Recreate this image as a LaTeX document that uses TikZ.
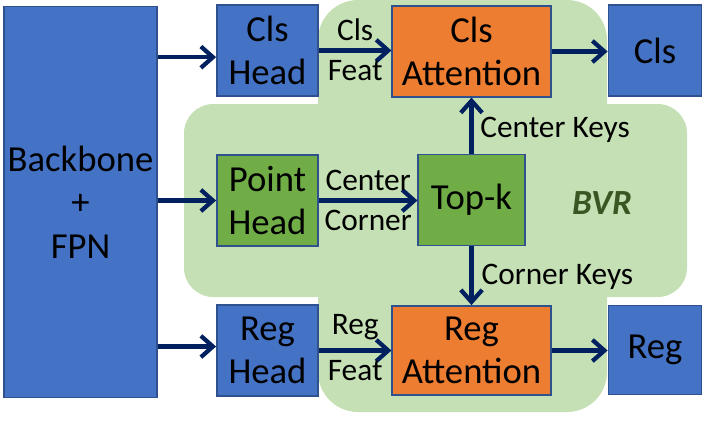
\documentclass[tikz,border=0pt]{standalone}
\usepackage{fontspec}
\setmainfont{Carlito}
\usepackage{tikz}
\usetikzlibrary{arrows.meta, calc}
\definecolor{blaubox}{HTML}{4472C4}
\definecolor{blaurand}{HTML}{2F528F}
\definecolor{orangebox}{HTML}{ED7D31}
\definecolor{gruenbox}{HTML}{70AD47}
\definecolor{gruenhell}{HTML}{C5E0B4}
\definecolor{gruendunkel}{HTML}{385723}
\definecolor{pfeil}{HTML}{002060}
\tikzstyle{line} = [draw=pfeil, line width=3.2pt, -{Straight Barb[length=9pt,width=16pt]}]

\begin{document}
\begin{tikzpicture}[x=0.75pt, y=-0.75pt,
		box/.style={draw=blaurand, line width=1.1pt, align=center, inner sep=0pt,
			font=\fontsize{27.5}{32.5}\selectfont},
		blau/.style={box, fill=blaubox},
		orange/.style={box, fill=orangebox, minimum width=119pt, minimum height=68pt},
		gruen/.style={box, fill=gruenbox},
		kopf/.style={blau, minimum width=76pt, minimum height=68pt},
		lbl/.style={font=\fontsize{23.5}{28}\selectfont, inner sep=6pt}]
	\useasboundingbox (0,0) rectangle (706,430);
	%Hintergrund BVR
	\fill[gruenhell, rounded corners=30pt] (318,0) rectangle (607,412);
	\fill[gruenhell, rounded corners=22pt] (184,104) rectangle (687,297);
	\node[gruendunkel, font=\fontsize{26.5}{30}\selectfont\bfseries\itshape] (bvr) at (602,203) {BVR};
	%Knoten
	\node[blau, minimum width=115pt, minimum height=293pt] (backbone) at (80.5,202) {Backbone\\+\\FPN};
	\node[kopf] (clshead) at (267.5,50.5) {Cls\\Head};
	\node[gruen, minimum width=76pt, minimum height=68pt] (pointhead) at (267.5,200.5) {Point\\Head};
	\node[kopf] (reghead) at (267.5,350.5) {Reg\\Head};
	\node[orange] (clsatt) at (471.5,51.5) {Cls\\Attention};
	\node[gruen, minimum width=80pt, minimum height=68pt] (topk) at (471.5,200) {Top-k};
	\node[orange, minimum height=67pt] (regatt) at (471.5,350.5) {Reg\\Attention};
	\node[blau, minimum width=70pt, minimum height=68pt] (clsout) at (655,50.5) {Cls};
	\node[blau, minimum width=70pt, minimum height=67pt] (regout) at (655,350) {Reg};
	%Pfeile
	\draw[line] ([yshift=-5pt]clshead.west -| backbone.east) -- ([yshift=-5pt]clshead.west);
	\draw[line] (pointhead.west -| backbone.east) -- (pointhead.west);
	\draw[line] ([yshift=3pt]reghead.west -| backbone.east) -- ([yshift=3pt]reghead.west);
	\draw[line] (clshead.east) -- (clshead.east -| clsatt.west)
		node[lbl, midway, above] {Cls} node[lbl, midway, below] {Feat};
	\draw[line] (pointhead.east) -- (pointhead.east -| topk.west)
		node[lbl, midway, above] {Center} node[lbl, midway, below] {Corner};
	\draw[line] (reghead.east) -- (reghead.east -| regatt.west)
		node[lbl, midway, above] {Reg} node[lbl, midway, below] {Feat};
	\draw[line] (topk.north) -- (clsatt.south) node[lbl, midway, right, xshift=-1pt, yshift=-3pt] {Center Keys};
	\draw[line] (topk.south) -- (regatt.north) node[lbl, midway, right, yshift=-1pt] {Corner Keys};
	\draw[line] (clsatt.east) -- (clsatt.east -| clsout.west);
	\draw[line] (regatt.east) -- (regatt.east -| regout.west);
\end{tikzpicture}
\end{document}
